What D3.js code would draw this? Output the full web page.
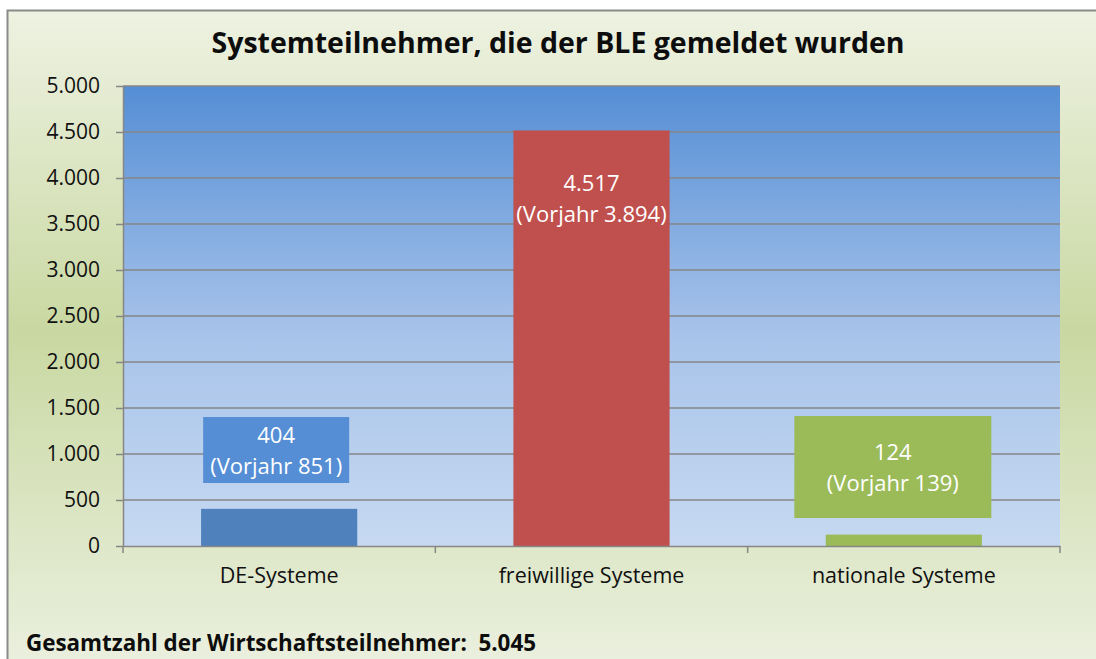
<!DOCTYPE html>
<html>
<head>
<meta charset="utf-8">
<script src="https://cdn.jsdelivr.net/npm/d3@7"></script>
<style>
  html, body { margin: 0; padding: 0; background: #ffffff; }
  svg { display: block; font-family: "Open Sans", "DejaVu Sans", sans-serif; }
</style>
</head>
<body>
<svg id="chart" width="1096" height="659"></svg>
<script>
// Daten
const categories = ["DE-Systeme", "freiwillige Systeme", "nationale Systeme"];
const values = [404, 4517, 124];
const previousYear = [851, 3894, 139];
const yTicks = [0, 500, 1000, 1500, 2000, 2500, 3000, 3500, 4000, 4500, 5000];
const totalCount = 5045;
const titleText = "Systemteilnehmer, die der BLE gemeldet wurden";
const totalLabel = "Gesamtzahl der Wirtschaftsteilnehmer:";

// Layout / Stil (keine Daten)
const barColors = ["#4f81bd", "#c0504d", "#9bbb59"];
const labelBoxes = [
  { fill: "#558ed5", width: 146, top: 1402, bottom: 685, shift: -3 },
  { fill: null, width: 0, top: 4100, bottom: 3470, shift: 0 },
  { fill: "#9bbb59", width: 197, top: 1413, bottom: 304, shift: -11 }
];

const de = d3.formatLocale({ decimal: ",", thousands: ".", grouping: [3], currency: ["", " €"] });
const fmt = de.format(",d");

const svg = d3.select("#chart");
const W = 1096, H = 659;
const plot = { left: 123, right: 1060, top: 86, bottom: 546 };

// Verläufe
const defs = svg.append("defs");
const bg = defs.append("linearGradient").attr("id", "bg").attr("x1", 0).attr("y1", 0).attr("x2", 0).attr("y2", 1);
bg.append("stop").attr("offset", "0%").attr("stop-color", "#eef2e2");
bg.append("stop").attr("offset", "48%").attr("stop-color", "#c9d8a2");
bg.append("stop").attr("offset", "100%").attr("stop-color", "#ecf1e1");

const pg = defs.append("linearGradient").attr("id", "plotbg").attr("x1", 0).attr("y1", 0).attr("x2", 0).attr("y2", 1);
pg.append("stop").attr("offset", "0%").attr("stop-color", "#558ed5");
pg.append("stop").attr("offset", "55%").attr("stop-color", "#a9c4ea");
pg.append("stop").attr("offset", "100%").attr("stop-color", "#c6d9f1");

// Diagrammfläche mit Rahmen
svg.append("rect")
  .attr("x", 7.5).attr("y", 10.5)
  .attr("width", W + 10).attr("height", H + 10)
  .attr("fill", "url(#bg)")
  .attr("stroke", "#8a8a8a").attr("stroke-width", 2);

// Skalen
const x = d3.scaleBand().domain(categories).range([plot.left, plot.right]).paddingInner(0).paddingOuter(0);
const y = d3.scaleLinear().domain([0, 5000]).range([plot.bottom, plot.top]);

// Zeichenfläche
svg.append("rect")
  .attr("x", plot.left).attr("y", plot.top)
  .attr("width", plot.right - plot.left).attr("height", plot.bottom - plot.top)
  .attr("fill", "url(#plotbg)");

// Gitterlinien
svg.append("g")
  .selectAll("line")
  .data(yTicks.filter(d => d > 0))
  .join("line")
  .attr("x1", plot.left).attr("x2", plot.right)
  .attr("y1", d => y(d)).attr("y2", d => y(d))
  .attr("stroke", "#868686").attr("stroke-width", 1.5);

// Balken
const barW = x.bandwidth() * 0.5;
svg.append("g")
  .selectAll("rect")
  .data(values)
  .join("rect")
  .attr("x", (d, i) => x(categories[i]) + (x.bandwidth() - barW) / 2)
  .attr("y", d => y(d))
  .attr("width", barW)
  .attr("height", d => y(0) - y(d))
  .attr("fill", (d, i) => barColors[i]);

// Y-Achse
const yAxis = svg.append("g")
  .attr("transform", `translate(${plot.left},0)`)
  .call(d3.axisLeft(y).tickValues(yTicks).tickFormat(fmt).tickSize(7).tickSizeOuter(0).tickPadding(16));
yAxis.attr("font-family", null).attr("font-size", null);
yAxis.select(".domain").attr("stroke", "#868686").attr("stroke-width", 1.5);
yAxis.selectAll(".tick line").attr("stroke", "#868686").attr("stroke-width", 1.5);
yAxis.selectAll(".tick text").attr("fill", "#111").style("font-size", "21px");

// X-Achse
const xAxis = svg.append("g")
  .attr("transform", `translate(0,${plot.bottom})`)
  .call(d3.axisBottom(x).tickSize(0).tickPadding(22));
xAxis.attr("font-family", null).attr("font-size", null);
xAxis.select(".domain").attr("stroke", "#868686").attr("stroke-width", 1.5);
xAxis.selectAll(".tick text").attr("fill", "#111").style("font-size", "21.5px");
// Trennstriche zwischen den Kategorien
svg.append("g")
  .selectAll("line")
  .data([...categories.map(c => x(c)), plot.right])
  .join("line")
  .attr("x1", d => d).attr("x2", d => d)
  .attr("y1", plot.bottom).attr("y2", plot.bottom + 7)
  .attr("stroke", "#868686").attr("stroke-width", 1.5);

// Datenbeschriftungen
svg.append("g").selectAll("g")
  .data(values)
  .join("g")
  .each(function (d, i) {
    const b = labelBoxes[i];
    const g = d3.select(this);
    const cx = x(categories[i]) + x.bandwidth() / 2 + b.shift;
    const yTop = y(b.top), yBot = y(b.bottom);
    if (b.fill) {
      g.append("rect")
        .attr("x", cx - b.width / 2)
        .attr("y", yTop)
        .attr("width", b.width)
        .attr("height", yBot - yTop)
        .attr("fill", b.fill);
    }
    const cy = (yTop + yBot) / 2;
    const t = g.append("text")
      .attr("text-anchor", "middle")
      .attr("fill", "#ffffff")
      .style("font-size", "22px");
    t.append("tspan").attr("x", cx).attr("y", cy - 7).text(fmt(d));
    t.append("tspan").attr("x", cx).attr("y", cy + 24).text(`(Vorjahr ${fmt(previousYear[i])})`);
  });

// Titel
svg.append("text")
  .attr("x", 558).attr("y", 53)
  .attr("text-anchor", "middle")
  .attr("fill", "#0d0d0d")
  .style("font-size", "28.5px").style("font-weight", "bold")
  .text(titleText);

// Gesamtzahl
svg.append("text")
  .attr("x", 26).attr("y", 651)
  .attr("fill", "#0d0d0d")
  .style("font-size", "22.4px").style("font-weight", "bold")
  .attr("xml:space", "preserve")
  .text(`${totalLabel}  ${fmt(totalCount)}`);
</script>
</body>
</html>
